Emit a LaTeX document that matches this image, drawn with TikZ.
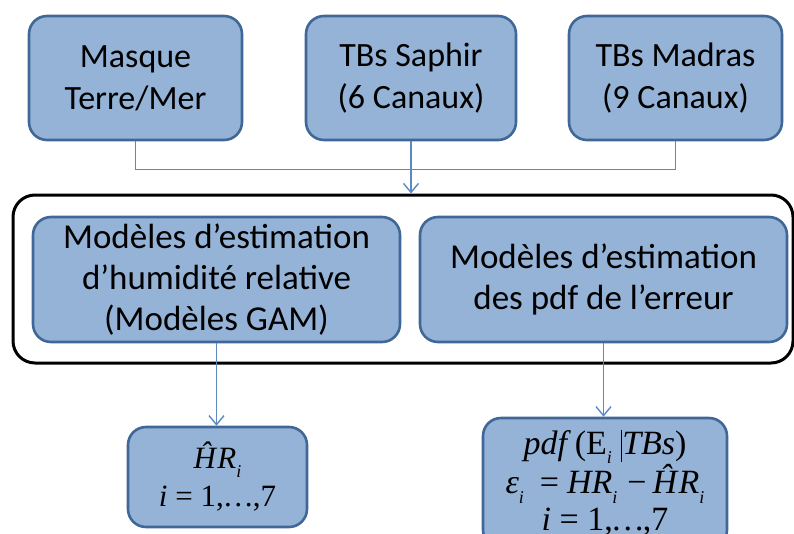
\documentclass[tikz,border=0pt]{standalone}
\usepackage{fontspec}
\setmainfont{Carlito}
\newfontfamily\tmsfont{Liberation Serif}
\usetikzlibrary{arrows.meta}
\definecolor{boxfill}{HTML}{95B3D7}
\definecolor{boxline}{HTML}{3F6797}
\definecolor{connc}{HTML}{5A89C4}
\newcommand{\isub}{\raisebox{-0.28em}{\fontsize{18}{18}\selectfont\itshape i}}
\begin{document}
\begin{tikzpicture}[x=1pt,y=-1pt,
  box/.style={draw=boxline, fill=boxfill, line width=2.6pt, rounded corners=18pt, inner sep=0pt, align=center},
  topfont/.style={font=\fontsize{34}{42}\selectfont},
  midfont/.style={font=\fontsize{35}{41}\selectfont},
  conn/.style={draw=connc, line width=1.4pt},
  arr/.style={conn, -{Straight Barb[length=9pt,width=15pt,line width=1.4pt]}}]
\clip (0,0) rectangle (794,533);
% top row
\node[box, topfont, minimum width=213pt, minimum height=124pt] (masque) at (135.5,78) {Masque\\Terre/Mer};
\node[box, topfont, minimum width=210pt, minimum height=124pt] (saphir) at (411,78) {TBs Saphir\\(6 Canaux)};
\node[box, topfont, minimum width=213pt, minimum height=124pt] (madras) at (675.5,78) {TBs Madras\\(9 Canaux)};
% big frame
\node[draw=black, line width=3pt, rounded corners=22pt, minimum width=780pt, minimum height=168pt, inner sep=0pt] (big) at (403,279) {};
% inner boxes
\node[box, midfont, minimum width=367pt, minimum height=125pt] (gam) at (216.5,279.5) {Modèles d’estimation\\d’humidité relative\\(Modèles GAM)};
\node[box, midfont, minimum width=367pt, minimum height=125pt] (pdfm) at (603.5,279.5) {Modèles d’estimation\\des pdf de l’erreur};
% results
\node[box, font=\tmsfont\fontsize{31}{38}\selectfont, minimum width=179pt, minimum height=100pt] (res1) at (217.5,477)
  {\textit{Ĥ}\textit{R}\isub\\\textit{i} = 1,\hspace{-1pt}…\hspace{-1pt},7};
\node[box, font=\tmsfont\fontsize{34}{37}\selectfont, minimum width=244pt, minimum height=130pt] (res2) at (605,483)
  {\textit{pdf}\hspace{4pt}(E\isub\hspace{9pt}\rule[-8pt]{1.3pt}{32pt}\textit{TBs})\\
   \textit{ε}\isub\hspace{16pt}=\hspace{8pt}\textit{HR}\isub\hspace{10pt}−\hspace{6pt}\textit{Ĥ}\textit{R}\isub\\
   \textit{i} = 1,\hspace{-2pt}…\hspace{-2pt},7};
% connectors
\draw[conn] (masque.south) -- ++(0,28) -| (madras.south);
\draw[arr] (saphir.south) -- (saphir.south |- big.north);
\draw[arr] (gam.south) -- (gam.south |- res1.north);
\draw[arr] (pdfm.south) -- (pdfm.south |- res2.north);
\end{tikzpicture}
\end{document}
